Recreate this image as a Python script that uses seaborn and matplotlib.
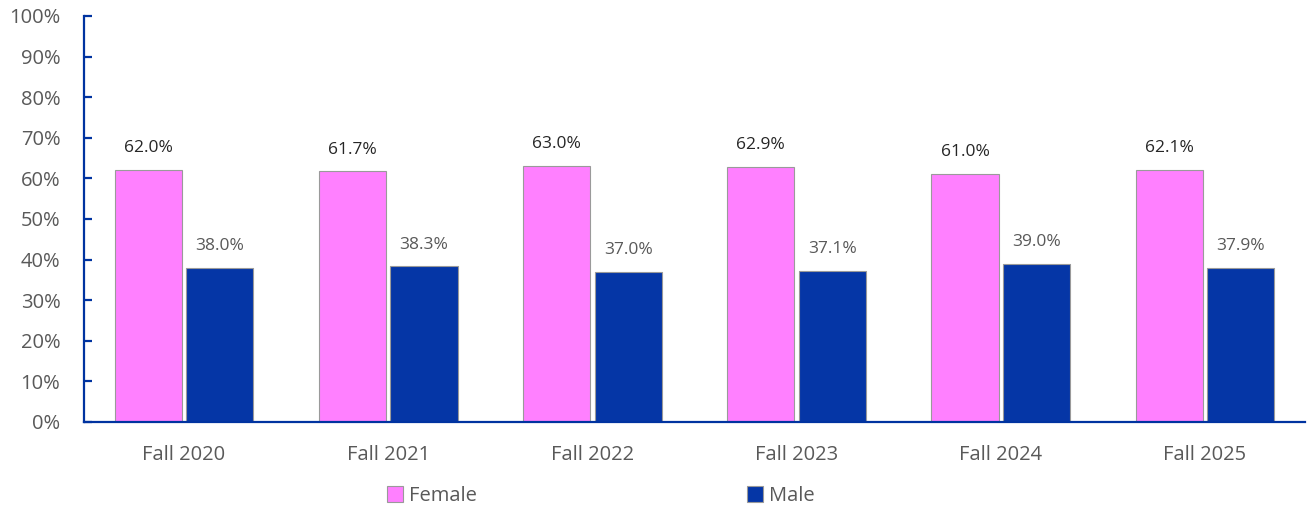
import pandas as pd
import matplotlib.pyplot as plt
import seaborn as sns

terms = ['Fall 2020', 'Fall 2021', 'Fall 2022', 'Fall 2023', 'Fall 2024', 'Fall 2025']
female = [62.0, 61.7, 63.0, 62.9, 61.0, 62.1]
male = [38.0, 38.3, 37.0, 37.1, 39.0, 37.9]

df = pd.DataFrame({
    'term': terms * 2,
    'pct': female + male,
    'sex': ['Female'] * len(terms) + ['Male'] * len(terms),
})

sns.set_style('white')
plt.rcParams['font.family'] = ['Open Sans', 'DejaVu Sans']

pal = {'Female': '#FF80FF', 'Male': '#0536A6'}
axis_col = '#0033A0'

fig = plt.figure(figsize=(13.12, 5.09), dpi=100)
ax = fig.add_axes([0.064, 0.171, 0.9307, 0.7976])

sns.barplot(data=df, x='term', y='pct', hue='sex', palette=pal, width=0.70, gap=0.06,
            edgecolor='#9a9a9a', linewidth=0.8, saturation=1, ax=ax)

label_cols = {'Female': '#262626', 'Male': '#595959'}
for cont, name in zip(ax.containers, ['Female', 'Male']):
    ax.bar_label(cont, labels=[f'{v:.1f}%' for v in cont.datavalues], padding=10,
                 fontsize=12.5, color=label_cols[name])

ax.set_ylim(0, 100)
ax.set_xlim(-0.49, len(terms) - 0.51)
ax.set_yticks(range(0, 101, 10))
ax.set_yticklabels([f'{t}%' for t in range(0, 101, 10)])
ax.set_xlabel('')
ax.set_ylabel('')

for s in ['top', 'right']:
    ax.spines[s].set_visible(False)
for s in ['left', 'bottom']:
    ax.spines[s].set_color(axis_col)
    ax.spines[s].set_linewidth(1.6)

ax.tick_params(axis='y', direction='in', length=6, width=1.6, color=axis_col,
               labelsize=14.5, labelcolor='#595959', pad=17, left=True)
ax.tick_params(axis='x', length=0, labelsize=14.5, labelcolor='#595959', pad=16.5)

leg = ax.legend(loc='upper center', bbox_to_anchor=(0.423, -0.113), ncol=2, frameon=False,
                fontsize=14.5, handlelength=0.8, handleheight=0.8, handletextpad=0.3,
                columnspacing=13.4)
for t in leg.get_texts():
    t.set_color('#595959')

fig.savefig('out.png', dpi=100)
